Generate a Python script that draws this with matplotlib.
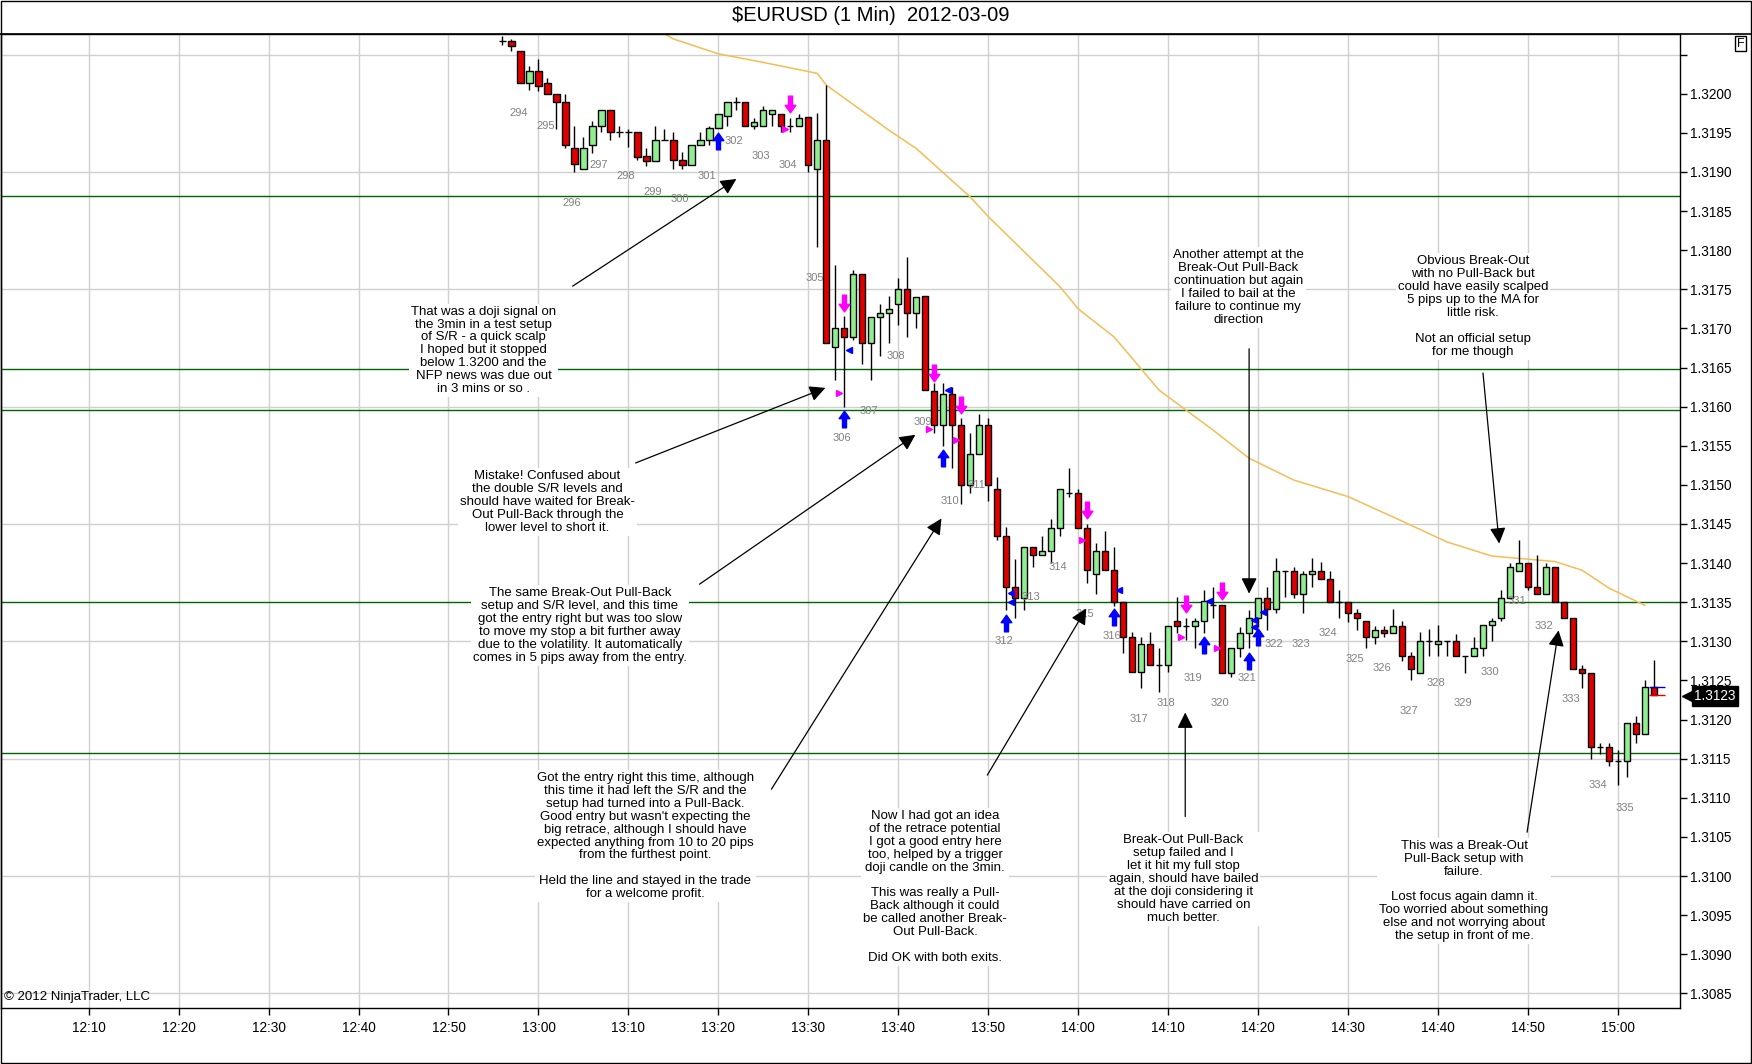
import numpy as np
import matplotlib
matplotlib.use("Agg")
import matplotlib.pyplot as plt
from matplotlib.path import Path
from matplotlib.lines import Line2D
from matplotlib.patches import Rectangle
import matplotlib.transforms as mtransforms

plt.rcParams['font.family'] = ['Liberation Sans', 'DejaVu Sans']

# ---------------- data: 1 minute candles ----------------
times = [
    '12:56', '12:57', '12:58', '12:59', '13:00', '13:01', '13:02', '13:03', '13:04', '13:05',
    '13:06', '13:07', '13:08', '13:09', '13:10', '13:11', '13:12', '13:13', '13:14', '13:15',
    '13:16', '13:17', '13:18', '13:19', '13:20', '13:21', '13:22', '13:23', '13:24', '13:25',
    '13:26', '13:27', '13:28', '13:29', '13:30', '13:31', '13:32', '13:33', '13:34', '13:35',
    '13:36', '13:37', '13:38', '13:39', '13:40', '13:41', '13:42', '13:43', '13:44', '13:45',
    '13:46', '13:47', '13:48', '13:49', '13:50', '13:51', '13:52', '13:53', '13:54', '13:55',
    '13:56', '13:57', '13:58', '13:59', '14:00', '14:01', '14:02', '14:03', '14:04', '14:05',
    '14:06', '14:07', '14:08', '14:09', '14:10', '14:11', '14:12', '14:13', '14:14', '14:15',
    '14:16', '14:17', '14:18', '14:19', '14:20', '14:21', '14:22', '14:23', '14:24', '14:25',
    '14:26', '14:27', '14:28', '14:29', '14:30', '14:31', '14:32', '14:33', '14:34', '14:35',
    '14:36', '14:37', '14:38', '14:39', '14:40', '14:41', '14:42', '14:43', '14:44', '14:45',
    '14:46', '14:47', '14:48', '14:49', '14:50', '14:51', '14:52', '14:53', '14:54', '14:55',
    '14:56', '14:57', '14:58', '14:59', '15:00', '15:01', '15:02', '15:03', '15:04',
]
opens = [
    1.32068, 1.32068, 1.32054, 1.32014, 1.32029, 1.32014, 1.32000, 1.31990, 1.31930, 1.31904,
    1.31935, 1.31959, 1.31979, 1.31951, 1.31951, 1.31951, 1.31920, 1.31914, 1.31941, 1.31941,
    1.31915, 1.31909, 1.31935, 1.31941, 1.31956, 1.31972, 1.31990, 1.31990, 1.31959, 1.31959,
    1.31974, 1.31974, 1.31959, 1.31959, 1.31970, 1.31904, 1.31941, 1.31676, 1.31700, 1.31689,
    1.31770, 1.31681, 1.31715, 1.31720, 1.31731, 1.31750, 1.31720, 1.31741, 1.31620, 1.31577,
    1.31616, 1.31576, 1.31500, 1.31540, 1.31576, 1.31495, 1.31435, 1.31370, 1.31356, 1.31420,
    1.31411, 1.31415, 1.31445, 1.31490, 1.31490, 1.31445, 1.31386, 1.31415, 1.31391, 1.31350,
    1.31306, 1.31261, 1.31296, 1.31270, 1.31270, 1.31326, 1.31320, 1.31320, 1.31326, 1.31346,
    1.31346, 1.31260, 1.31291, 1.31311, 1.31330, 1.31356, 1.31341, 1.31390, 1.31390, 1.31361,
    1.31386, 1.31390, 1.31380, 1.31350, 1.31350, 1.31336, 1.31326, 1.31306, 1.31315, 1.31311,
    1.31320, 1.31281, 1.31260, 1.31301, 1.31297, 1.31301, 1.31301, 1.31281, 1.31281, 1.31291,
    1.31321, 1.31330, 1.31356, 1.31390, 1.31400, 1.31370, 1.31361, 1.31395, 1.31350, 1.31330,
    1.31265, 1.31260, 1.31165, 1.31165, 1.31147, 1.31147, 1.31196, 1.31182, 1.31241,
]
highs = [
    1.32074, 1.32070, 1.32055, 1.32035, 1.32045, 1.32020, 1.32000, 1.32000, 1.31959, 1.31945,
    1.31965, 1.31979, 1.31979, 1.31959, 1.31955, 1.31951, 1.31931, 1.31959, 1.31955, 1.31951,
    1.31925, 1.31935, 1.31951, 1.31959, 1.31974, 1.31990, 1.31996, 1.31990, 1.31969, 1.31984,
    1.31979, 1.31974, 1.31969, 1.31974, 1.31970, 1.31975, 1.32011, 1.31781, 1.31716, 1.31775,
    1.31770, 1.31715, 1.31731, 1.31741, 1.31765, 1.31791, 1.31740, 1.31741, 1.31630, 1.31630,
    1.31625, 1.31585, 1.31566, 1.31590, 1.31585, 1.31510, 1.31446, 1.31405, 1.31420, 1.31420,
    1.31435, 1.31457, 1.31495, 1.31521, 1.31495, 1.31450, 1.31426, 1.31441, 1.31421, 1.31350,
    1.31312, 1.31306, 1.31312, 1.31291, 1.31320, 1.31357, 1.31330, 1.31330, 1.31366, 1.31370,
    1.31346, 1.31291, 1.31318, 1.31340, 1.31356, 1.31370, 1.31406, 1.31390, 1.31395, 1.31390,
    1.31406, 1.31401, 1.31390, 1.31366, 1.31350, 1.31341, 1.31326, 1.31320, 1.31320, 1.31341,
    1.31326, 1.31286, 1.31312, 1.31316, 1.31321, 1.31301, 1.31310, 1.31281, 1.31306, 1.31321,
    1.31330, 1.31366, 1.31400, 1.31430, 1.31400, 1.31411, 1.31400, 1.31395, 1.31350, 1.31330,
    1.31270, 1.31260, 1.31170, 1.31170, 1.31161, 1.31196, 1.31205, 1.31251, 1.31276,
]
lows = [
    1.32062, 1.32055, 1.32014, 1.32005, 1.32004, 1.32000, 1.31955, 1.31930, 1.31900, 1.31904,
    1.31924, 1.31951, 1.31941, 1.31945, 1.31932, 1.31915, 1.31908, 1.31914, 1.31941, 1.31904,
    1.31904, 1.31909, 1.31934, 1.31934, 1.31956, 1.31959, 1.31979, 1.31959, 1.31955, 1.31959,
    1.31959, 1.31951, 1.31951, 1.31959, 1.31900, 1.31804, 1.31681, 1.31634, 1.31600, 1.31685,
    1.31655, 1.31634, 1.31665, 1.31681, 1.31704, 1.31689, 1.31700, 1.31621, 1.31566, 1.31550,
    1.31521, 1.31475, 1.31490, 1.31540, 1.31480, 1.31430, 1.31340, 1.31330, 1.31340, 1.31395,
    1.31411, 1.31400, 1.31435, 1.31484, 1.31445, 1.31375, 1.31360, 1.31391, 1.31345, 1.31285,
    1.31261, 1.31240, 1.31270, 1.31235, 1.31261, 1.31311, 1.31302, 1.31291, 1.31311, 1.31330,
    1.31260, 1.31255, 1.31280, 1.31291, 1.31318, 1.31314, 1.31336, 1.31357, 1.31355, 1.31336,
    1.31370, 1.31380, 1.31350, 1.31330, 1.31325, 1.31315, 1.31291, 1.31296, 1.31306, 1.31311,
    1.31275, 1.31251, 1.31260, 1.31281, 1.31281, 1.31281, 1.31281, 1.31260, 1.31281, 1.31281,
    1.31301, 1.31326, 1.31356, 1.31390, 1.31366, 1.31361, 1.31361, 1.31350, 1.31330, 1.31265,
    1.31240, 1.31150, 1.31156, 1.31141, 1.31116, 1.31126, 1.31170, 1.31182, 1.31231,
]
closes = [
    1.32068, 1.32061, 1.32014, 1.32029, 1.32010, 1.32000, 1.31990, 1.31935, 1.31910, 1.31930,
    1.31959, 1.31979, 1.31951, 1.31951, 1.31951, 1.31919, 1.31914, 1.31941, 1.31941, 1.31915,
    1.31909, 1.31935, 1.31941, 1.31956, 1.31974, 1.31990, 1.31990, 1.31959, 1.31964, 1.31979,
    1.31979, 1.31959, 1.31959, 1.31969, 1.31909, 1.31941, 1.31681, 1.31700, 1.31689, 1.31770,
    1.31681, 1.31715, 1.31720, 1.31725, 1.31750, 1.31720, 1.31740, 1.31621, 1.31577, 1.31616,
    1.31577, 1.31500, 1.31540, 1.31576, 1.31500, 1.31435, 1.31370, 1.31356, 1.31420, 1.31411,
    1.31415, 1.31445, 1.31495, 1.31490, 1.31445, 1.31391, 1.31415, 1.31391, 1.31350, 1.31306,
    1.31261, 1.31296, 1.31270, 1.31270, 1.31320, 1.31320, 1.31320, 1.31326, 1.31351, 1.31346,
    1.31260, 1.31291, 1.31311, 1.31330, 1.31356, 1.31341, 1.31390, 1.31390, 1.31361, 1.31386,
    1.31390, 1.31380, 1.31350, 1.31350, 1.31336, 1.31330, 1.31306, 1.31315, 1.31311, 1.31320,
    1.31281, 1.31265, 1.31301, 1.31301, 1.31301, 1.31301, 1.31281, 1.31281, 1.31291, 1.31321,
    1.31326, 1.31356, 1.31395, 1.31400, 1.31370, 1.31361, 1.31395, 1.31350, 1.31330, 1.31265,
    1.31260, 1.31165, 1.31165, 1.31147, 1.31147, 1.31196, 1.31182, 1.31241, 1.31231,
]

# moving average, read at a few points
ma_times = ['13:12', '13:15', '13:20', '13:25', '13:31', '13:32', '13:39', '13:42', '13:48', '13:50',
            '13:58', '14:00', '14:04', '14:09', '14:15', '14:19', '14:24', '14:30', '14:35', '14:41',
            '14:46', '14:50', '14:53', '14:56', '14:59', '15:03']
ma_values = [1.32090, 1.32070, 1.32051, 1.32040, 1.32026, 1.32011, 1.31953, 1.31930, 1.31868, 1.31843,
             1.31753, 1.31725, 1.31689, 1.31621, 1.31570, 1.31534, 1.31506, 1.31485, 1.31459, 1.31427,
             1.31409, 1.31405, 1.31402, 1.31391, 1.31368, 1.31346]

sr_levels = [1.31869, 1.31648, 1.31596, 1.31350, 1.31157]
grid_levels = [1.3085, 1.3100, 1.3115, 1.3130, 1.3145, 1.3160, 1.3175, 1.3190, 1.3205]
price_ticks = [1.3085, 1.3090, 1.3095, 1.3100, 1.3105, 1.3110, 1.3115, 1.3120, 1.3125, 1.3130,
               1.3135, 1.3140, 1.3145, 1.3150, 1.3155, 1.3160, 1.3165, 1.3170, 1.3175, 1.3180,
               1.3185, 1.3190, 1.3195, 1.3200, 1.3205]
time_ticks = ['12:10', '12:20', '12:30', '12:40', '12:50', '13:00', '13:10', '13:20', '13:30',
              '13:40', '13:50', '14:00', '14:10', '14:20', '14:30', '14:40', '14:50', '15:00']

# 3 minute bar numbers
bar_numbers = list(range(294, 336))
bar_label_prices = [
    1.31975, 1.31959, 1.31860, 1.31909, 1.31895, 1.31875, 1.31865, 1.31895, 1.31940, 1.31920,
    1.31909, 1.31765, 1.31560, 1.31595, 1.31665, 1.31581, 1.31480, 1.31500, 1.31301, 1.31357,
    1.31395, 1.31335, 1.31307, 1.31201, 1.31221, 1.31253, 1.31221, 1.31253, 1.31297, 1.31297,
    1.31311, 1.31277, 1.31266, 1.31211, 1.31247, 1.31221, 1.31261, 1.31351, 1.31320, 1.31226,
    1.31116, 1.31087,
]

# signal arrows
up_times = ['13:20', '13:34', '13:45', '13:52', '14:04', '14:14', '14:19', '14:20']
up_prices = [1.31940, 1.31584, 1.31534, 1.31324, 1.31331, 1.31295, 1.31275, 1.31305]
down_times = ['13:28', '13:34', '13:44', '13:47', '14:01', '14:12', '14:16']
down_prices = [1.31987, 1.31732, 1.31643, 1.31602, 1.31468, 1.31348, 1.31364]

# small fill triangles
blue_tri_times = ['13:34', '13:45', '13:52', '13:52', '14:04', '14:14', '14:19', '14:19', '14:20']
blue_tri_prices = [1.31673, 1.31621, 1.31362, 1.31350, 1.31366, 1.31351, 1.31327, 1.31318, 1.31338]
pink_tri_times = ['13:28', '13:34', '13:44', '13:47', '14:01', '14:12', '14:16']
pink_tri_prices = [1.31955, 1.31617, 1.31571, 1.31557, 1.31430, 1.31306, 1.31291]

last_price = 1.3123

notes = [
    "That was a doji signal on\nthe 3min in a test setup\nof S/R - a quick scalp\nI hoped but it stopped\n"
    "below 1.3200 and the\nNFP news was due out\nin 3 mins or so .",
    "Mistake! Confused about\nthe double S/R levels and\nshould have waited for Break-\n"
    "Out Pull-Back through the\nlower level to short it.",
    "The same Break-Out Pull-Back\nsetup and S/R level, and this time\ngot the entry right but was too slow\n"
    "to move my stop a bit further away\ndue to the volatility. It automatically\n"
    "comes in 5 pips away from the entry.",
    "Got the entry right this time, although\nthis time it had left the S/R and the\n"
    "setup had turned into a Pull-Back.\nGood entry but wasn't expecting the\n"
    "big retrace, although I should have\nexpected anything from 10 to 20 pips\n"
    "from the furthest point.\n\nHeld the line and stayed in the trade\nfor a welcome profit.",
    "Now I had got an idea\nof the retrace potential\nI got a good entry here\ntoo, helped by a trigger\n"
    "doji candle on the 3min.\n\nThis was really a Pull-\nBack although it could\n"
    "be called another Break-\nOut Pull-Back.\n\nDid OK with both exits.",
    "Break-Out Pull-Back\nsetup failed and I\nlet it hit my full stop\nagain, should have bailed\n"
    "at the doji considering it\nshould have carried on\nmuch better.",
    "Another attempt at the\nBreak-Out Pull-Back\ncontinuation but again\nI failed to bail at the\n"
    "failure to continue my\ndirection",
    "Obvious Break-Out\nwith no Pull-Back but\ncould have easily scalped\n5 pips up to the MA for\n"
    "little risk.\n\nNot an official setup\nfor me though",
    "This was a Break-Out\nPull-Back setup with\nfailure.\n\nLost focus again damn it.\n"
    "Too worried about something\nelse and not worrying about\nthe setup in front of me.",
]
note_x = [53.9, 61.0, 64.6, 71.9, 104.1, 131.7, 137.8, 163.9, 162.9]
note_y = [1.31672, 1.31478, 1.31320, 1.31051, 1.30986, 1.30996, 1.31752, 1.31728, 1.30981]
arrow_from = [(63.8, 1.31754), (70.8, 1.31528), (77.9, 1.31373), (85.9, 1.31111), (109.9, 1.31129),
              (131.9, 1.31076), (139.0, 1.31674), (165.0, 1.31643), (169.9, 1.31056)]
arrow_to = [(82.0, 1.31891), (91.9, 1.31624), (101.9, 1.31564), (104.8, 1.31457), (120.9, 1.31342),
            (131.9, 1.31209), (139.0, 1.31361), (166.8, 1.31425), (173.4, 1.31314)]


def minutes(s):
    h, m = s.split(':')
    return (int(h) - 12) * 60 + int(m)


x = np.array([minutes(t) for t in times])
o = np.array(opens)
h = np.array(highs)
l = np.array(lows)
c = np.array(closes)

UP = '#90ee90'
DOWN = '#e00000'

fig = plt.figure(figsize=(17.52, 10.64), dpi=100)
ax = fig.add_axes([0.0006, 0.0524, 0.9583, 0.9154])

ax.set_xlim(0.26, 186.9)
ax.set_ylim(1.30831, 1.32076)

# grid
for g in grid_levels:
    ax.axhline(g, color='#d0d0d0', lw=1, zorder=0)
for t in time_ticks:
    ax.axvline(minutes(t), color='#d0d0d0', lw=1, zorder=0)

for s in sr_levels:
    ax.axhline(s, color='#006400', lw=1, zorder=1)

ax.plot([minutes(t) for t in ma_times], ma_values, color='#f3bd55', lw=1.1, zorder=2)

# candles
ax.vlines(x, l, h, color='black', lw=1, zorder=3)
cols = [UP if cc > oo else DOWN for oo, cc in zip(o, c)]
ax.bar(x, c - o, bottom=o, width=0.7, color=cols, edgecolor='black', linewidth=1, zorder=4)

# last bar bid/ask ticks
ax.hlines(c[-2], x[-1] - 0.6, x[-1] + 1.2, color='#0000cc', lw=1, zorder=5)
ax.hlines(c[-1], x[-1] - 0.6, x[-1] + 1.2, color='#e00000', lw=1, zorder=5)

# arrow markers
up_path = Path([(-0.12, -0.5), (0.12, -0.5), (0.12, 0.05), (0.32, 0.05), (0.0, 0.5),
                (-0.32, 0.05), (-0.12, 0.05), (-0.12, -0.5)], closed=True)
down_path = Path([(vx, -vy) for vx, vy in up_path.vertices], closed=True)
ax.plot([minutes(t) for t in up_times], up_prices, ls='', marker=up_path, ms=12,
        color='#0000ff', mec='#0000ff', zorder=6)
ax.plot([minutes(t) for t in down_times], down_prices, ls='', marker=down_path, ms=12,
        color='#ff00ff', mec='#ff00ff', zorder=6)
ax.plot([minutes(t) + 0.55 for t in blue_tri_times], blue_tri_prices, ls='', marker='<', ms=5,
        color='#0000ff', mec='#0000ff', zorder=6)
ax.plot([minutes(t) - 0.55 for t in pink_tri_times], pink_tri_prices, ls='', marker='>', ms=5,
        color='#ff00ff', mec='#ff00ff', zorder=6)

# 3min bar numbers
for i, (n, p) in enumerate(zip(bar_numbers, bar_label_prices)):
    ax.text(minutes('12:58') - 0.25 + 3 * i, p, str(n), ha='center', va='center',
            fontsize=8, color='#808080', zorder=7)

# notes
for txt, tx, ty in zip(notes, note_x, note_y):
    ax.text(tx, ty, txt, ha='center', va='center', fontsize=9.5, linespacing=1.1,
            color='black', zorder=8,
            bbox=dict(facecolor='white', edgecolor='none', pad=1.5))
for (x0, y0), (x1, y1) in zip(arrow_from, arrow_to):
    ax.annotate('', xy=(x1, y1), xytext=(x0, y0), zorder=9,
                arrowprops=dict(arrowstyle='-|>', color='black', lw=0.9,
                                mutation_scale=24, shrinkA=0, shrinkB=0))

# axes styling
ax.yaxis.tick_right()
ax.set_yticks(price_ticks)
ax.set_yticklabels([f"{p:.4f}" if p < 1.3204 else '' for p in price_ticks])
ax.set_xticks([minutes(t) for t in time_ticks])
ax.set_xticklabels(time_ticks)
ax.tick_params(axis='both', direction='out', length=5, width=1, labelsize=9.8, colors='black')
ax.tick_params(axis='y', pad=2)
ax.tick_params(axis='x', pad=4)
for sp in ax.spines.values():
    sp.set_linewidth(1)
    sp.set_color('black')

# last price tag
blend = mtransforms.blended_transform_factory(ax.transAxes, ax.transData)
ax.text(1.0085, last_price, f"{last_price:.4f}", transform=blend, ha='left', va='center',
        fontsize=9.8, color='white', clip_on=False, zorder=10,
        bbox=dict(boxstyle='square,pad=0.2', facecolor='black', edgecolor='black'))
ax.plot([1.0045], [last_price], transform=blend, marker='<', ms=9, color='black',
        clip_on=False, zorder=10)

ax.text(0.002, 0.005, '\u00a9 2012 NinjaTrader, LLC', transform=ax.transAxes, fontsize=9.5,
        ha='left', va='bottom', zorder=10)

fig.text(0.497, 0.985, '$EURUSD (1 Min)  2012-03-09', ha='center', va='center', fontsize=14.5)
fig.text(0.9935, 0.959, 'F', ha='center', va='center', fontsize=9,
         bbox=dict(boxstyle='square,pad=0.15', facecolor='white', edgecolor='black', lw=1))

fig.add_artist(Line2D([0, 1], [1 - 34.3 / 1064] * 2, color='black', lw=1.2,
                      transform=fig.transFigure))
fig.add_artist(Rectangle((0.0003, 0.0008), 0.9992, 0.9985, fill=False, edgecolor='black',
                         lw=1, transform=fig.transFigure))

fig.savefig('out.png', dpi=100)
